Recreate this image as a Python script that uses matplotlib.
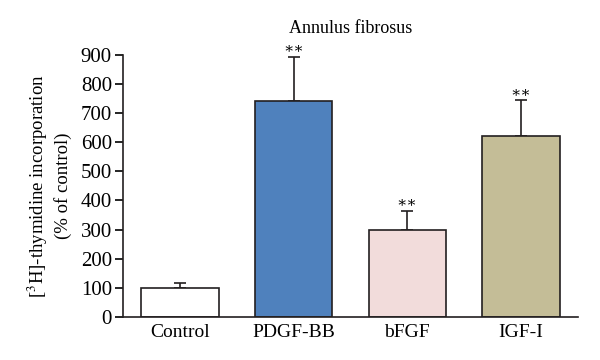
import matplotlib.pyplot as plt

plt.rcParams['font.family'] = ['Liberation Serif', 'DejaVu Serif']
plt.rcParams['mathtext.fontset'] = 'stix'

# data
groups = ['Control', 'PDGF-BB', 'bFGF', 'IGF-I']
means = [100, 743, 298, 622]
errors = [17, 151, 66, 122]
stars = ['', '∗∗', '∗∗', '∗∗']
colors = ['#ffffff', '#4f81bd', '#f2dcdb', '#c4bd97']

fig = plt.figure(figsize=(6, 3.6), dpi=100)
ax = fig.add_axes([0.205, 0.12, 0.758, 0.727])

x = range(len(groups))
ax.bar(x, means, width=0.68, color=colors, edgecolor='#231f20', linewidth=1.2, zorder=2)
ax.errorbar(x, means, yerr=[[0] * len(errors), errors], fmt='none', ecolor='#231f20',
            elinewidth=1.2, capsize=4, capthick=1.2, zorder=1)

for xi, m, e, s in zip(x, means, errors, stars):
    if s:
        ax.text(xi, m + e + 6, s, ha='center', va='bottom', fontsize=11,
                family=['DejaVu Serif'])

ax.set_xlim(-0.5, 3.5)
ax.set_ylim(0, 900)
ax.set_yticks(range(0, 901, 100))
ax.set_xticks(list(x))
ax.set_xticklabels(groups)
ax.tick_params(axis='x', length=0, labelsize=14, pad=5)
ax.tick_params(axis='y', direction='out', length=6, width=1.2, labelsize=15, pad=2)
for side in ['top', 'right']:
    ax.spines[side].set_visible(False)
for side in ['left', 'bottom']:
    ax.spines[side].set_linewidth(1.2)
    ax.spines[side].set_color('#231f20')

ax.set_ylabel('[$^{3}$H]-thymidine incorporation\n(% of control)', fontsize=13.5,
              labelpad=6, linespacing=1.3)
ax.set_title('Annulus fibrosus', fontsize=13, pad=16)

fig.savefig('out.png', dpi=100)
